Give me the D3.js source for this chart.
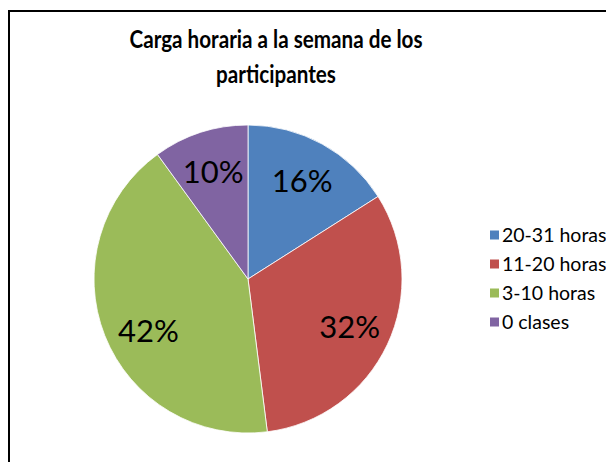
<!DOCTYPE html>
<html>
<head>
<meta charset="utf-8" />
<title>Carga horaria</title>
<script src="https://cdnjs.cloudflare.com/ajax/libs/d3/7.8.5/d3.min.js"></script>
<style>
  body { margin: 0; background: #fff; }
  svg { display: block; }
  text { font-family: Lato, "Open Sans", sans-serif; }
</style>
</head>
<body>
<svg id="chart" width="606" height="462"></svg>
<script>
  // datos
  const categories = ['20-31 horas', '11-20 horas', '3-10 horas', '0 clases']
  const values = [16, 32, 42, 10]
  const colors = ['#4F81BD', '#C0504D', '#9BBB59', '#8064A2']
  const titleLines = ['Carga horaria a la semana de los', 'participantes']
  // ajuste de angulo de las etiquetas (grados), como las coloca Excel
  const labelShift = [0, 0, -6, 0]

  const svg = d3.select('#chart')

  // marco
  svg.append('rect')
    .attr('x', 9).attr('y', 11)
    .attr('width', 640).attr('height', 500)
    .style('fill', 'white')
    .style('stroke', 'black')
    .style('stroke-width', '2px')

  // titulo: letra algo estrecha como Calibri negrita
  svg.append('g').selectAll('text')
    .data(titleLines)
    .enter()
    .append('text')
    .attr('x', 276)
    .attr('y', (d, i) => 48 + i * 35)
    .attr('text-anchor', 'middle')
    .style('font-size', '24px')
    .style('font-weight', 'bold')
    .style('fill', '#000')
    .text(d => d)
    .each(function() {
      let w = this.getComputedTextLength()
      d3.select(this).attr('textLength', w * 0.86).attr('lengthAdjust', 'spacingAndGlyphs')
    })

  const cx = 248, cy = 279, r = 154
  const pie = d3.pie().sort(null).value(d => d)
  const arcs = pie(values)
  const arc = d3.arc().innerRadius(0).outerRadius(r)

  const g = svg.append('g').attr('transform', 'translate(' + cx + ',' + cy + ')')

  g.selectAll('path')
    .data(arcs)
    .enter()
    .append('path')
    .attr('d', arc)
    .style('fill', (d, i) => colors[i])
    .style('stroke', '#fff')
    .style('stroke-width', '0.8px')

  const total = d3.sum(values)
  g.selectAll('text.lbl')
    .data(arcs)
    .enter()
    .append('text')
    .attr('class', 'lbl')
    .attr('transform', function(d, i) {
      let a = (d.startAngle + d.endAngle) / 2 + labelShift[i] * Math.PI / 180
      let rr = r * 0.73
      return 'translate(' + (rr * Math.sin(a)) + ',' + (-rr * Math.cos(a)) + ')'
    })
    .attr('text-anchor', 'middle')
    .attr('dy', '0.36em')
    .style('font-size', '31px')
    .style('fill', '#000')
    .text(d => Math.round(d.value / total * 100) + '%')

  // leyenda
  const legend = svg.append('g').selectAll('g')
    .data(categories)
    .enter()
    .append('g')
    .attr('transform', (d, i) => 'translate(490,' + (235 + i * 29) + ')')

  legend.append('rect')
    .attr('x', 0).attr('y', -4.5)
    .attr('width', 9).attr('height', 9)
    .style('fill', (d, i) => colors[i])

  legend.append('text')
    .attr('x', 12)
    .attr('dy', '0.36em')
    .style('font-size', '19.5px')
    .style('fill', '#000')
    .text(d => d)
</script>
</body>
</html>
